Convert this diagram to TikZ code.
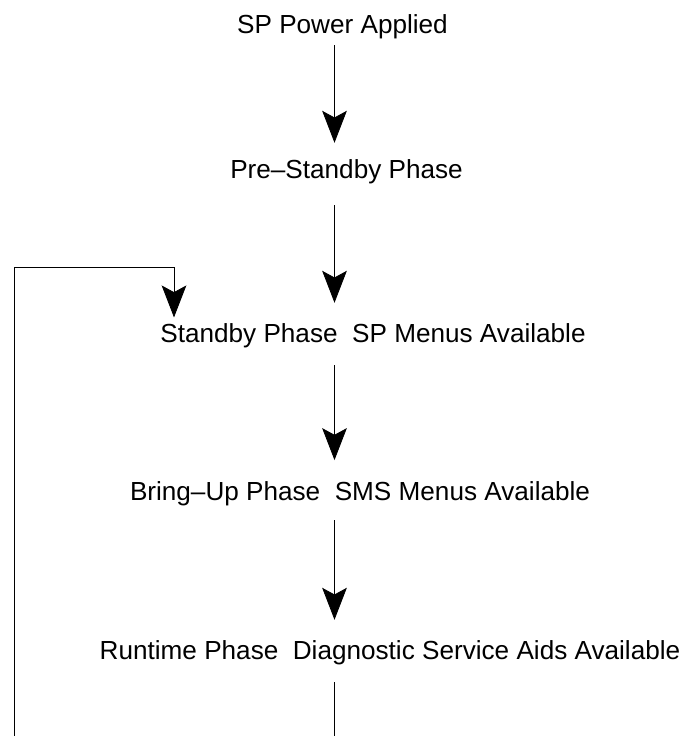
\documentclass[tikz,border=0pt]{standalone}
\usepackage{fontspec}
\setmainfont{Liberation Sans}
\usetikzlibrary{arrows.meta}

\tikzset{
	phase/.style={inner sep=0pt, anchor=base, font=\fontsize{19.6}{24}\selectfont},
	flow/.style={line width=0.6pt, -{Stealth[length=24pt, width=18.5pt, inset=5pt]}},
	plain/.style={line width=0.6pt}
}

\begin{document}
\begin{tikzpicture}[x=0.75pt, y=-0.75pt]
	\useasboundingbox (0,0) rectangle (689,736);
	
	\node [phase] (power) at (342.5,33) {SP Power Applied};
	\node [phase] (prestandby) at (346.5,178) {Pre–Standby Phase};
	\node [phase] (standby) at (373,342) {Standby Phase\ \ SP Menus Available};
	\node [phase] (bringup) at (360,500) {Bring–Up Phase\ \ SMS Menus Available};
	\node [phase] (runtime) at (390,659) {Runtime Phase\ \ Diagnostic Service Aids Available};
	
	\coordinate (spine) at (334.5,736);
	\coordinate (loopbot) at (14,736);
	\coordinate (looptop) at (174,267);
	
	\draw [flow, shorten <=5pt, shorten >=12pt] (power.south -| spine) -- (prestandby.north -| spine);
	\draw [flow, shorten <=16pt, shorten >=15pt] (prestandby.south -| spine) -- (standby.north -| spine);
	\draw [flow, shorten <=13pt, shorten >=15.5pt] (standby.south -| spine) -- (bringup.north -| spine);
	\draw [flow, shorten <=11pt, shorten >=15pt] (bringup.south -| spine) -- (runtime.north -| spine);
	\draw [plain, shorten <=13pt] (runtime.south -| spine) -- (spine);
	
	% loop back into standby
	\draw [flow, shorten >=4pt] (loopbot) |- (looptop) -- (looptop |- standby.north);
\end{tikzpicture}
\end{document}
